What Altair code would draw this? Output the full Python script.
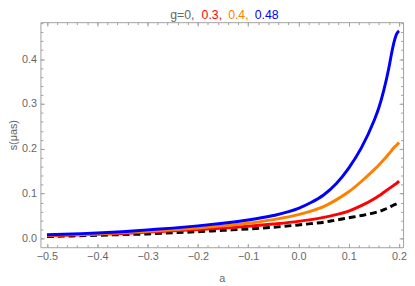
import altair as alt
import pandas as pd

# ---- data ----
a_vals = [-0.5, -0.45, -0.4, -0.35, -0.3, -0.25, -0.2, -0.15, -0.1, -0.05, 0.0,
          0.025, 0.05, 0.075, 0.1, 0.125, 0.15, 0.16, 0.17, 0.18, 0.185, 0.19,
          0.195, 0.2]
s_g0 = [0.004, 0.0055, 0.007, 0.0085, 0.010, 0.0125, 0.015, 0.018, 0.021, 0.025,
        0.030, 0.033, 0.036, 0.041, 0.046, 0.051, 0.057, 0.060, 0.064, 0.069,
        0.072, 0.075, 0.077, 0.080]
s_g03 = [0.006, 0.0075, 0.009, 0.011, 0.014, 0.017, 0.020, 0.023, 0.027, 0.032,
         0.038, 0.042, 0.047, 0.053, 0.061, 0.073, 0.088, 0.095, 0.103, 0.111,
         0.115, 0.119, 0.123, 0.128]
s_g04 = [0.007, 0.0085, 0.010, 0.013, 0.016, 0.019, 0.023, 0.028, 0.034, 0.042,
         0.053, 0.061, 0.071, 0.086, 0.104, 0.127, 0.153, 0.164, 0.176, 0.189,
         0.196, 0.203, 0.208, 0.214]
s_g048 = [0.008, 0.010, 0.012, 0.015, 0.019, 0.023, 0.028, 0.034, 0.041, 0.051,
          0.067, 0.080, 0.097, 0.122, 0.157, 0.202, 0.262, 0.292, 0.332, 0.382,
          0.412, 0.438, 0.456, 0.463]

series_vals = [s_g0, s_g03, s_g04, s_g048]
series_colors = ["#000000", "#ff0000", "#ff8000", "#0000ff"]

x_major = [-0.5, -0.4, -0.3, -0.2, -0.1, 0.0, 0.1, 0.2]
x_minor = [round(-0.5 + 0.02 * i, 2) for i in range(36)]
y_major = [0.0, 0.1, 0.2, 0.3, 0.4]
y_minor = [round(0.02 * i, 2) for i in range(25)]

title_parts = ["g=0, ", "0.3, ", "0.4, ", "0.48"]
title_colors = ["#666666", "#ff0000", "#ff8000", "#0000ff"]

x_title = "a"
y_title = "s(\u03bcas)"

# ---- styling ----
FONT = "Liberation Sans"
FRAME = "#a0a0a0"
LABEL = "#666666"
x_dom = [-0.513, 0.208]
y_dom = [-0.0197, 0.4825]


def axis(orient, values, size, labels=False, **kw):
    return alt.Axis(orient=orient, values=values, tickSize=size, offset=-size,
                    labels=labels, domain=False, grid=False, ticks=True,
                    tickColor=FRAME, tickWidth=1, labelFont=FONT,
                    labelFontSize=11, labelColor=LABEL, format=".1f",
                    titleFont=FONT, titleFontSize=11, titleColor=LABEL,
                    titleFontWeight="normal", **kw)


axes = [
    (axis("bottom", x_major, 4, labels=True, labelPadding=3, titlePadding=12),
     axis("left", y_major, 4, labels=True, labelPadding=4, titlePadding=3)),
    (axis("bottom", x_minor, 2.5), axis("left", y_minor, 2.5)),
    (axis("top", x_major, 4), axis("right", y_major, 4)),
    (axis("top", x_minor, 2.5), axis("right", y_minor, 2.5)),
]
titles = [(x_title, y_title), ("", ""), ("", ""), ("", "")]

layers = []
for i, (vals, col) in enumerate(zip(series_vals, series_colors)):
    df = pd.DataFrame({"a": a_vals, "s": vals})
    kw = dict(color=col, strokeWidth=3, interpolate="monotone")
    if i == 0:
        kw["strokeDash"] = [7, 4]
    xa, ya = axes[i]
    xt, yt = titles[i]
    layers.append(
        alt.Chart(df).mark_line(**kw).encode(
            x=alt.X("a:Q", scale=alt.Scale(domain=x_dom, nice=False, zero=False),
                    axis=xa, title=xt),
            y=alt.Y("s:Q", scale=alt.Scale(domain=y_dom, nice=False, zero=False),
                    axis=ya, title=yt),
        )
    )

title_x = [132, 164, 191, 218]
for part, col, px in zip(title_parts, title_colors, title_x):
    layers.append(
        alt.Chart(pd.DataFrame({"t": [part]})).mark_text(
            align="left", baseline="alphabetic", font=FONT, fontSize=12.5, color=col
        ).encode(text="t:N", x=alt.value(px), y=alt.value(-3))
    )

chart = (
    alt.layer(*layers)
    .resolve_scale(x="independent", y="independent")
    .resolve_axis(x="independent", y="independent")
    .properties(
        width=369, height=229,
        padding={"left": 33, "top": 12, "right": 4, "bottom": 37},
        autosize=alt.AutoSizeParams(type="none"),
    )
    .configure_view(stroke=FRAME, strokeWidth=1)
)

chart.save("out.html", embed_options={"renderer": "svg", "actions": False})
